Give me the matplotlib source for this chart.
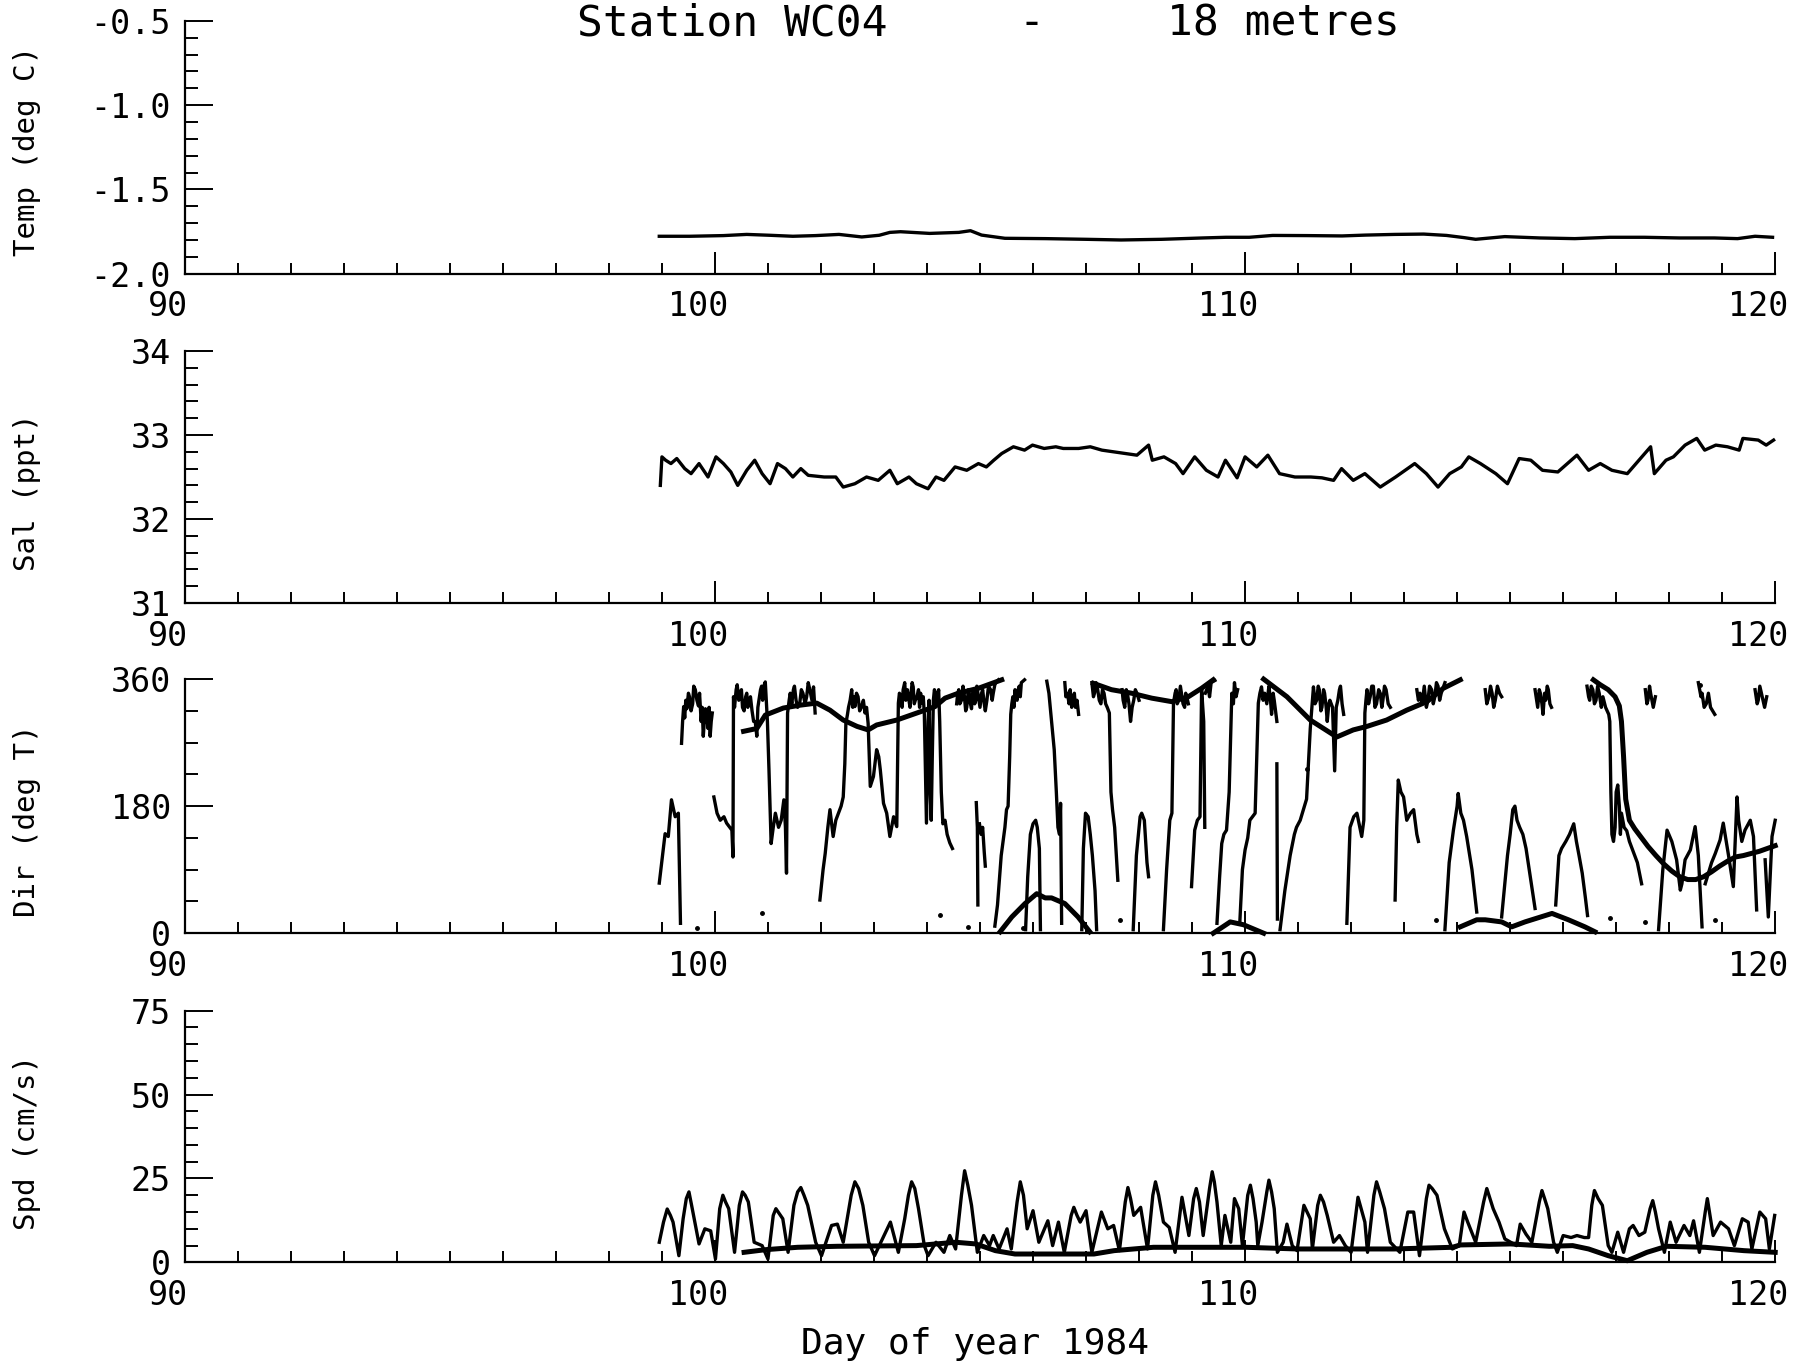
import numpy as np
import matplotlib.pyplot as plt
from matplotlib.ticker import MultipleLocator, FormatStrFormatter
from matplotlib.transforms import ScaledTranslation

plt.rcParams['font.family'] = 'DejaVu Sans Mono'
plt.rcParams['axes.unicode_minus'] = False

# ---- temperature (deg C) ----
temp_day = [98.95, 99.52, 100.16, 100.6, 101.03, 101.47, 101.9, 102.34, 102.77, 103.1,
            103.3, 103.5, 104.05, 104.6, 104.82, 105.03, 105.47, 106.24, 107.0, 107.66,
            108.43, 109.2, 109.64, 110.08, 110.52, 111.17, 111.83, 112.27, 112.82, 113.37,
            113.8, 114.13, 114.35, 114.9, 115.56, 116.22, 116.88, 117.53, 118.19, 118.85,
            119.29, 119.62, 119.95]
temp_val = [-1.778, -1.778, -1.774, -1.767, -1.772, -1.778, -1.774, -1.767, -1.782, -1.772,
            -1.755, -1.751, -1.761, -1.755, -1.745, -1.771, -1.790, -1.792, -1.796, -1.800,
            -1.796, -1.788, -1.784, -1.784, -1.773, -1.774, -1.776, -1.771, -1.767, -1.765,
            -1.773, -1.786, -1.796, -1.780, -1.788, -1.792, -1.784, -1.784, -1.788, -1.788,
            -1.792, -1.778, -1.784]

# ---- salinity (ppt) ----
sal_day = [98.97, 99.0, 99.07, 99.17, 99.28, 99.43, 99.55, 99.7, 99.87, 100.02,
           100.16, 100.3, 100.43, 100.6, 100.75, 100.89, 101.04, 101.18, 101.33, 101.47,
           101.62, 101.76, 102.06, 102.28, 102.42, 102.64, 102.86, 103.08, 103.3, 103.44,
           103.66, 103.8, 104.02, 104.17, 104.32, 104.53, 104.75, 104.97, 105.12, 105.26,
           105.41, 105.63, 105.84, 105.99, 106.21, 106.43, 106.57, 106.86, 107.08, 107.3,
           107.52, 107.74, 107.96, 108.18, 108.25, 108.47, 108.69, 108.83, 109.05, 109.27,
           109.49, 109.63, 109.85, 110.0, 110.22, 110.43, 110.65, 110.94, 111.24, 111.45,
           111.67, 111.82, 112.04, 112.26, 112.55, 112.84, 113.2, 113.42, 113.64, 113.86,
           114.08, 114.22, 114.44, 114.73, 114.95, 115.17, 115.39, 115.61, 115.9, 116.26,
           116.48, 116.7, 116.92, 117.21, 117.43, 117.65, 117.72, 117.94, 118.08, 118.3,
           118.52, 118.67, 118.88, 119.1, 119.32, 119.39, 119.68, 119.83, 119.97]
sal_val = [32.40, 32.74, 32.70, 32.66, 32.72, 32.60, 32.54, 32.66, 32.50, 32.74,
           32.66, 32.56, 32.40, 32.58, 32.70, 32.54, 32.42, 32.66, 32.60, 32.50,
           32.60, 32.52, 32.50, 32.50, 32.38, 32.42, 32.50, 32.46, 32.58, 32.42,
           32.50, 32.42, 32.36, 32.50, 32.46, 32.62, 32.58, 32.66, 32.62, 32.70,
           32.78, 32.86, 32.82, 32.88, 32.84, 32.86, 32.84, 32.84, 32.86, 32.82,
           32.80, 32.78, 32.76, 32.88, 32.70, 32.74, 32.66, 32.54, 32.74, 32.58,
           32.50, 32.70, 32.49, 32.74, 32.62, 32.76, 32.54, 32.50, 32.50, 32.49,
           32.46, 32.60, 32.46, 32.54, 32.38, 32.50, 32.66, 32.54, 32.38, 32.54,
           32.62, 32.74, 32.66, 32.54, 32.42, 32.72, 32.70, 32.58, 32.56, 32.76,
           32.58, 32.66, 32.58, 32.54, 32.70, 32.86, 32.54, 32.70, 32.74, 32.88,
           32.96, 32.82, 32.88, 32.86, 32.82, 32.96, 32.94, 32.88, 32.94]

# ---- current direction (deg T): pen strokes as (day, deg) ----
dir_strokes = [
    [(98.95, 71), (99.06, 141), (99.12, 137), (99.18, 189), (99.25, 165), (99.31, 170), (99.35, 14)],
    [(99.37, 269), (99.39, 300), (99.41, 321), (99.43, 305), (99.45, 330), (99.47, 318), (99.5, 340),
     (99.52, 335), (99.55, 315), (99.58, 325), (99.6, 350), (99.63, 345), (99.66, 330), (99.69, 322),
     (99.71, 340), (99.74, 300), (99.76, 320), (99.78, 279), (99.8, 300), (99.82, 318), (99.85, 305),
     (99.87, 290), (99.89, 320), (99.91, 279), (99.93, 300), (99.95, 312)],
    [(99.98, 193), (100.04, 170), (100.1, 160), (100.17, 165), (100.22, 156), (100.28, 150), (100.32, 146),
     (100.34, 108), (100.35, 335), (100.37, 320), (100.4, 345), (100.42, 352), (100.45, 330), (100.47, 340),
     (100.5, 345), (100.52, 320), (100.55, 315), (100.58, 335), (100.6, 340), (100.62, 320), (100.64, 325),
     (100.67, 335), (100.7, 315), (100.73, 300), (100.76, 300), (100.79, 279), (100.81, 320), (100.83, 330),
     (100.86, 345), (100.88, 350), (100.9, 330), (100.93, 352), (100.95, 356), (100.99, 300),
     (101.02, 230), (101.06, 127), (101.1, 150), (101.14, 170), (101.2, 150), (101.25, 160), (101.3, 189),
     (101.33, 150), (101.35, 85), (101.37, 312), (101.4, 330), (101.42, 340), (101.45, 325), (101.48, 345),
     (101.5, 350), (101.53, 330), (101.56, 320), (101.6, 326), (101.63, 345), (101.66, 340), (101.7, 325),
     (101.73, 335), (101.76, 355), (101.79, 345), (101.83, 330), (101.86, 349), (101.89, 312)],
    [(101.98, 47), (102.04, 90), (102.08, 113), (102.13, 150), (102.17, 175), (102.23, 137), (102.28, 160),
     (102.33, 170), (102.38, 180), (102.42, 193), (102.45, 240), (102.47, 297), (102.5, 310), (102.52, 320),
     (102.55, 330), (102.58, 345), (102.6, 320), (102.62, 335), (102.64, 321), (102.67, 340), (102.7, 335),
     (102.73, 315), (102.76, 320), (102.8, 330), (102.83, 312), (102.86, 320), (102.89, 297), (102.93, 208),
     (102.99, 222), (103.05, 260), (103.09, 250), (103.12, 231), (103.18, 184), (103.24, 170), (103.3, 137),
     (103.37, 165), (103.43, 151), (103.46, 326), (103.48, 340), (103.5, 335), (103.53, 320), (103.55, 345),
     (103.58, 355), (103.6, 330), (103.63, 345), (103.65, 335), (103.68, 320), (103.7, 340), (103.72, 355),
     (103.74, 349), (103.76, 325), (103.78, 330), (103.81, 335), (103.84, 345), (103.86, 320), (103.88, 340),
     (103.9, 326), (103.93, 335), (103.95, 310), (103.99, 156), (104.02, 300), (104.04, 330), (104.06, 200),
     (104.08, 160), (104.1, 250), (104.12, 330), (104.14, 345), (104.16, 340), (104.18, 325), (104.2, 335),
     (104.22, 345), (104.24, 300), (104.27, 200), (104.3, 155), (104.34, 160), (104.38, 140), (104.43, 128),
     (104.48, 120)],
    [(104.56, 325), (104.58, 340), (104.6, 345), (104.62, 325), (104.65, 330), (104.68, 350), (104.7, 340),
     (104.73, 315), (104.75, 320), (104.78, 345), (104.8, 338), (104.82, 325), (104.84, 318), (104.86, 340),
     (104.88, 345), (104.9, 325), (104.92, 330), (104.94, 350), (104.96, 340), (104.98, 330), (105.0, 320),
     (105.03, 340), (105.05, 345), (105.08, 325), (105.1, 315), (105.13, 330), (105.16, 350), (105.2, 345),
     (105.23, 330), (105.25, 340), (105.28, 352), (105.3, 355), (105.35, 359)],
    [(104.93, 185), (104.95, 150), (104.96, 40)],
    [(104.99, 155), (105.02, 140), (105.05, 150), (105.08, 115), (105.1, 95)],
    [(105.28, 10), (105.33, 40), (105.4, 110), (105.47, 150), (105.5, 175), (105.53, 180), (105.56, 250),
     (105.58, 310), (105.6, 325), (105.62, 335), (105.64, 320), (105.66, 345), (105.68, 335), (105.7, 330),
     (105.72, 345), (105.74, 350), (105.76, 335), (105.78, 355), (105.84, 359)],
    [(105.86, 5), (105.9, 80), (105.95, 140), (106.0, 155), (106.05, 160), (106.08, 150), (106.12, 120), (106.14, 5)],
    [(106.26, 357), (106.3, 340), (106.35, 300), (106.4, 260), (106.44, 200), (106.47, 150), (106.5, 140),
     (106.52, 184), (106.54, 14)],
    [(106.6, 355), (106.62, 335), (106.65, 340), (106.68, 325), (106.7, 345), (106.73, 320), (106.75, 330),
     (106.78, 340), (106.8, 320), (106.83, 330), (106.86, 310)],
    [(106.92, 5), (106.95, 120), (106.99, 170), (107.04, 165), (107.08, 140), (107.12, 110), (107.17, 60), (107.2, 5)],
    [(107.11, 355), (107.14, 335), (107.16, 340), (107.19, 355), (107.22, 345), (107.25, 330), (107.28, 325),
     (107.31, 345), (107.34, 340), (107.37, 325), (107.4, 320), (107.44, 312), (107.47, 200), (107.5, 175),
     (107.54, 150), (107.58, 100), (107.6, 75)],
    [(107.68, 345), (107.7, 330), (107.73, 320), (107.76, 345), (107.78, 340), (107.81, 325), (107.84, 300),
     (107.87, 320), (107.9, 330), (107.93, 345), (107.96, 340), (108.0, 330)],
    [(107.89, 5), (107.95, 110), (108.02, 165), (108.05, 170), (108.1, 160), (108.15, 100), (108.18, 80)],
    [(108.46, 5), (108.52, 90), (108.58, 160), (108.62, 170), (108.65, 326), (108.68, 340), (108.7, 345),
     (108.72, 325), (108.75, 330), (108.78, 350), (108.8, 340), (108.83, 325), (108.86, 320), (108.88, 340),
     (108.9, 335), (108.93, 325)],
    [(108.99, 66), (109.05, 146), (109.1, 160), (109.15, 165), (109.18, 345), (109.22, 300), (109.24, 150)],
    [(109.25, 340), (109.3, 350), (109.33, 335), (109.36, 355), (109.43, 358)],
    [(109.47, 14), (109.52, 80), (109.56, 127), (109.6, 140), (109.65, 146), (109.7, 200), (109.75, 340),
     (109.78, 325), (109.8, 355), (109.83, 335), (109.86, 345)],
    [(109.9, 14), (109.95, 90), (110.0, 118), (110.05, 135), (110.09, 160), (110.19, 170), (110.25, 326),
     (110.28, 340), (110.31, 349), (110.34, 330), (110.37, 340), (110.41, 325), (110.45, 350), (110.48, 330),
     (110.5, 310), (110.53, 340), (110.55, 330), (110.6, 300)],
    [(110.6, 240), (110.61, 20)],
    [(110.66, 5), (110.75, 60), (110.85, 110), (110.93, 140), (110.97, 150), (111.04, 160), (111.16, 190),
     (111.23, 290), (111.26, 320), (111.29, 349), (111.32, 325), (111.35, 330), (111.38, 350), (111.4, 345),
     (111.43, 315), (111.45, 320), (111.48, 345), (111.5, 340), (111.53, 320), (111.55, 300), (111.58, 325),
     (111.6, 330), (111.65, 320), (111.69, 230), (111.72, 320), (111.75, 330), (111.78, 345), (111.8, 350),
     (111.83, 325), (111.86, 310)],
    [(111.92, 14), (111.98, 150), (112.05, 165), (112.11, 170), (112.2, 137), (112.24, 160), (112.26, 312),
     (112.28, 330), (112.3, 345), (112.33, 325), (112.36, 335), (112.39, 350), (112.42, 350), (112.45, 320),
     (112.48, 325), (112.52, 345), (112.55, 340), (112.58, 320), (112.6, 330), (112.63, 350), (112.66, 345),
     (112.7, 325), (112.74, 320)],
    [(112.83, 47), (112.86, 150), (112.89, 217), (112.94, 200), (112.99, 193), (113.05, 160), (113.12, 170),
     (113.18, 175), (113.24, 140), (113.27, 130)],
    [(113.24, 345), (113.27, 330), (113.3, 340), (113.34, 325), (113.38, 350), (113.42, 320), (113.45, 330),
     (113.48, 350), (113.52, 345), (113.55, 325), (113.58, 335), (113.61, 355), (113.64, 350), (113.67, 330),
     (113.7, 340), (113.77, 355)],
    [(113.77, 5), (113.85, 100), (113.93, 146), (114.0, 180), (114.02, 198), (114.07, 170), (114.12, 160),
     (114.18, 137), (114.28, 90), (114.37, 30)],
    [(114.53, 345), (114.56, 325), (114.6, 335), (114.63, 350), (114.66, 340), (114.69, 320), (114.72, 330),
     (114.76, 350), (114.8, 340), (114.84, 335)],
    [(114.84, 23), (114.95, 110), (115.0, 140), (115.05, 175), (115.09, 180), (115.13, 160), (115.18, 150),
     (115.24, 140), (115.3, 120), (115.36, 90), (115.41, 66), (115.47, 35)],
    [(115.47, 345), (115.5, 330), (115.52, 320), (115.55, 345), (115.57, 340), (115.6, 325), (115.62, 310),
     (115.65, 340), (115.67, 330), (115.7, 350), (115.72, 345), (115.75, 325), (115.78, 320)],
    [(115.86, 40), (115.92, 110), (115.97, 120), (116.05, 130), (116.12, 140), (116.2, 155), (116.25, 130),
     (116.3, 110), (116.36, 85), (116.42, 50), (116.46, 25)],
    [(116.45, 350), (116.48, 335), (116.5, 330), (116.53, 350), (116.56, 345), (116.59, 325), (116.62, 330),
     (116.65, 350), (116.68, 340), (116.72, 320), (116.75, 335), (116.8, 320), (116.86, 310), (116.88, 300),
     (116.9, 200), (116.92, 140), (116.95, 130), (116.98, 150), (117.0, 200), (117.03, 210), (117.06, 180),
     (117.08, 140), (117.1, 170), (117.15, 150), (117.2, 145), (117.25, 130), (117.3, 120), (117.4, 100),
     (117.48, 70)],
    [(117.55, 345), (117.58, 325), (117.6, 330), (117.63, 350), (117.65, 340), (117.7, 320), (117.74, 335)],
    [(117.8, 5), (117.88, 90), (117.96, 146), (118.05, 130), (118.14, 104), (118.21, 61), (118.24, 70),
     (118.3, 104), (118.4, 118), (118.49, 151), (118.55, 110), (118.62, 9)],
    [(118.68, 70), (118.8, 100), (118.87, 113), (118.96, 132), (119.02, 156), (119.12, 110), (119.21, 66),
     (119.28, 193), (119.31, 160), (119.37, 130), (119.43, 146), (119.53, 160), (119.59, 137), (119.65, 33)],
    [(119.81, 104), (119.87, 23), (119.94, 137), (120.0, 160)],
    [(118.55, 355), (118.6, 335), (118.62, 340), (118.66, 320), (118.7, 325), (118.74, 340), (118.78, 320),
     (118.86, 310)],
    [(119.62, 345), (119.66, 325), (119.68, 330), (119.71, 350), (119.74, 340), (119.8, 320), (119.84, 335)],
]
dir_dot_day = [99.66, 100.88, 104.25, 104.78, 105.82, 107.64, 111.16, 113.6, 116.89, 117.55, 118.87, 118.58]
dir_dot_deg = [7, 28, 26, 9, 7, 19, 232, 19, 21, 16, 19, 352]

# filtered direction (heavy line), one list per pen stroke
dir_smooth = [
    [(100.54, 286), (100.79, 290), (100.95, 309), (101.29, 319), (101.6, 323), (101.92, 326), (102.17, 316),
     (102.42, 302), (102.68, 293), (102.89, 288), (103.05, 295), (103.43, 302), (103.81, 312), (104.15, 321),
     (104.34, 333), (104.59, 340), (104.97, 347), (105.41, 359)],
    [(105.38, 2), (105.6, 23), (105.85, 42), (106.07, 56), (106.23, 50), (106.35, 50), (106.6, 42),
     (106.85, 23), (107.07, 2)],
    [(107.14, 354), (107.48, 345), (107.86, 340), (108.24, 333), (108.62, 328), (108.93, 335), (109.18, 347),
     (109.4, 359)],
    [(109.4, 0), (109.72, 16), (109.97, 12), (110.35, 0)],
    [(110.35, 360), (110.79, 335), (111.23, 302), (111.73, 278), (112.04, 288), (112.3, 293), (112.67, 302),
     (113.05, 316), (113.43, 328), (113.74, 347), (114.06, 359)],
    [(114.06, 9), (114.37, 19), (114.53, 19), (114.84, 16), (115.03, 9), (115.28, 16), (115.79, 28),
     (116.1, 19), (116.41, 9), (116.6, 2)],
    [(116.57, 359), (116.7, 352), (116.85, 345), (116.98, 335), (117.06, 322), (117.1, 300), (117.14, 250),
     (117.18, 190), (117.25, 160), (117.35, 148), (117.45, 138), (117.6, 123), (117.75, 110), (117.9, 98),
     (118.05, 88), (118.2, 80), (118.35, 76), (118.5, 76), (118.65, 80), (118.8, 87), (118.95, 95),
     (119.1, 102), (119.25, 108), (119.4, 110), (119.55, 113), (119.7, 116), (119.85, 120), (120.0, 124)],
]

# ---- current speed (cm/s) ----
spd_day = [98.95, 99.03, 99.1, 99.16, 99.21, 99.32, 99.4, 99.46, 99.51, 99.56, 99.62, 99.7, 99.81, 99.92,
           100.01, 100.09, 100.15, 100.2, 100.26, 100.37, 100.46, 100.52, 100.57, 100.63, 100.74, 100.89,
           101.0, 101.1, 101.15, 101.28, 101.38, 101.49, 101.56, 101.62, 101.68, 101.75, 101.9, 102.01,
           102.2, 102.31, 102.42, 102.57, 102.64, 102.71, 102.79, 102.9, 103.01, 103.13, 103.31, 103.46,
           103.58, 103.65, 103.71, 103.77, 103.84, 103.95, 104.02, 104.17, 104.32, 104.43, 104.54, 104.65,
           104.71, 104.77, 104.84, 104.95, 105.07, 105.18, 105.25, 105.36, 105.51, 105.59, 105.7, 105.76,
           105.82, 105.89, 106.0, 106.11, 106.19, 106.28, 106.37, 106.48, 106.59, 106.72, 106.77, 106.83,
           106.89, 107.0, 107.11, 107.29, 107.41, 107.52, 107.63, 107.74, 107.79, 107.84, 107.9, 108.03,
           108.16, 108.26, 108.31, 108.37, 108.46, 108.57, 108.68, 108.81, 108.94, 109.03, 109.08, 109.14,
           109.21, 109.33, 109.38, 109.42, 109.47, 109.55, 109.62, 109.73, 109.8, 109.88, 109.95, 110.05,
           110.1, 110.15, 110.21, 110.24, 110.32, 110.41, 110.45, 110.5, 110.55, 110.61, 110.72, 110.79,
           110.89, 110.98, 111.11, 111.23, 111.27, 111.37, 111.42, 111.48, 111.55, 111.67, 111.78, 111.89,
           112.0, 112.13, 112.26, 112.31, 112.43, 112.48, 112.54, 112.63, 112.74, 112.92, 113.07, 113.18,
           113.29, 113.42, 113.47, 113.53, 113.62, 113.76, 113.91, 114.04, 114.13, 114.2, 114.35, 114.5,
           114.56, 114.62, 114.68, 114.79, 114.9, 115.01, 115.12, 115.19, 115.3, 115.41, 115.55, 115.6,
           115.65, 115.71, 115.82, 115.89, 116.0, 116.15, 116.26, 116.4, 116.48, 116.54, 116.59, 116.66,
           116.74, 116.85, 116.92, 117.03, 117.14, 117.25, 117.32, 117.43, 117.54, 117.64, 117.69, 117.74,
           117.8, 117.91, 118.02, 118.13, 118.28, 118.39, 118.46, 118.57, 118.68, 118.72, 118.77, 118.83,
           118.97, 119.12, 119.23, 119.38, 119.49, 119.56, 119.71, 119.82, 119.89, 119.99]
spd_val = [6, 12, 15.9, 14, 12, 2, 13, 19, 21, 17, 12, 5.5, 10, 9.4,
           1, 16, 20, 18, 16, 3, 17, 21, 20, 18, 6, 5,
           1, 14, 16, 13, 3, 17, 21, 22.3, 20, 17, 6, 2,
           11, 11.4, 6, 20, 24, 22, 17, 6, 2, 6, 12, 3,
           13, 20, 24, 22, 16, 5, 2, 6, 3, 8, 4, 20,
           27.3, 23, 17, 3, 8, 5, 8, 4, 10, 4, 18, 24,
           20, 10, 15.4, 6, 9, 12.4, 5, 12, 3, 14, 16.4, 14,
           12, 15.4, 3, 15, 10, 11, 3.5, 18, 22.3, 19, 14, 16.4,
           4, 20, 24, 20, 12, 10.4, 3, 19.4, 8, 19, 22, 18,
           8, 22, 27, 24, 18, 5, 14, 6, 19, 16, 5, 20,
           23, 19, 12, 5, 12, 21, 24.5, 21, 16, 3, 6, 11.4,
           5, 3.5, 17, 13, 4, 17, 20, 18, 14, 6, 8, 5,
           3, 19.4, 12, 3, 20, 24, 21, 16, 6, 3, 15, 15,
           2, 19, 23, 22, 20, 10, 4, 5, 15, 12, 6, 18,
           22, 19, 16, 12, 7, 6, 5, 11.4, 8.4, 6, 18, 21.4,
           19, 16, 6, 3, 8, 7.4, 8, 7.4, 7.4, 17, 21.4, 19,
           17, 5, 3, 9, 3, 10, 11, 8, 9, 16, 18.4, 15,
           10, 3, 12, 6, 11, 8, 12.4, 3, 15, 19, 14, 8,
           12, 10, 5, 13, 12, 4, 15, 13, 4, 14]
spd_smooth_day = [100.55, 100.96, 101.56, 102.31, 103.8, 104.17, 104.54, 104.92, 105.29, 105.66,
                  106.41, 107.15, 107.53, 108.27, 109.02, 110.02, 110.98, 112.81, 113.91, 114.06,
                  115.01, 115.74, 116.18, 116.48, 116.85, 117.21, 117.58, 117.95, 118.68, 119.41, 120.0]
spd_smooth_val = [3.0, 3.8, 4.5, 4.8, 5.0, 5.5, 6.0, 5.5, 3.5, 2.5,
                  2.5, 2.5, 3.5, 4.5, 4.5, 4.5, 4.0, 4.0, 4.5, 5.2,
                  5.5, 4.8, 5.0, 4.0, 2.0, 0.5, 3.0, 4.8, 4.5, 3.5, 3.0]


def join_strokes(strokes):
    xs, ys = [], []
    for s in strokes:
        xs += [p[0] for p in s] + [np.nan]
        ys += [p[1] for p in s] + [np.nan]
    return xs, ys


W, H = 1811, 1369
fig = plt.figure(figsize=(W / 100, H / 100), dpi=100)


def panel(top, bottom):
    return fig.add_axes([184.8 / W, 1 - bottom / H, (1775.2 - 184.8) / W, (bottom - top) / H])


def style(ax, ylim, major, minor, fmt):
    ax.set_xlim(90, 120)
    ax.set_ylim(*ylim)
    ax.spines['top'].set_visible(False)
    ax.spines['right'].set_visible(False)
    ax.spines['left'].set_linewidth(1.6)
    ax.spines['bottom'].set_linewidth(1.6)
    ax.xaxis.set_major_locator(MultipleLocator(10))
    ax.xaxis.set_minor_locator(MultipleLocator(1))
    ax.yaxis.set_major_locator(MultipleLocator(major))
    ax.yaxis.set_minor_locator(MultipleLocator(minor))
    ax.yaxis.set_major_formatter(FormatStrFormatter(fmt))
    ax.tick_params(axis='x', which='major', direction='in', length=16, width=1.4, pad=12, labelsize=24)
    ax.tick_params(axis='x', which='minor', direction='in', length=8, width=1.4)
    ax.tick_params(axis='y', which='major', direction='in', length=20, width=1.4, pad=10, labelsize=24)
    ax.tick_params(axis='y', which='minor', direction='in', length=9, width=1.4)
    shift = ScaledTranslation(-0.17, 0, fig.dpi_scale_trans)
    for t in ax.xaxis.get_major_ticks():
        t.label1.set_transform(t.label1.get_transform() + shift)


ax1 = panel(20.8, 273.7)
ax2 = panel(351.1, 602.9)
ax3 = panel(679.1, 933.2)
ax4 = panel(1010.6, 1262.4)

style(ax1, (-2.0, -0.5), 0.5, 0.1, '%.1f')
style(ax2, (31, 34), 1, 0.2, '%d')
style(ax3, (0, 360), 180, 45, '%d')
style(ax4, (0, 75), 25, 5, '%d')

raw = dict(color='black', lw=2.4, clip_on=False)
ax1.plot(temp_day, temp_val, **raw)
ax2.plot(sal_day, sal_val, **raw)

dx, dy = join_strokes(dir_strokes)
ax3.plot(dx, dy, **raw)
ax3.plot(dir_dot_day, dir_dot_deg, 'o', color='black', ms=2.5, clip_on=False)
sx, sy = join_strokes(dir_smooth)
ax3.plot(sx, sy, color='black', lw=3.6, clip_on=False)

ax4.plot(spd_day, spd_val, **raw)
ax4.plot(spd_smooth_day, spd_smooth_val, color='black', lw=3.6, clip_on=False)

# y axis labels
ylabels = [('Temp (deg C)', 151), ('Sal (ppt)', 492), ('Dir (deg T)', 821), ('Spd (cm/s)', 1142)]
for text, yc in ylabels:
    fig.text(27 / W, 1 - yc / H, text, rotation=90, ha='center', va='center', fontsize=21)

# title pieces and x label
fig.text(732 / W, 1 - 35 / H, 'Station WC04', ha='center', va='baseline', fontsize=31)
fig.text(1031 / W, 1 - 35 / H, '-', ha='center', va='baseline', fontsize=31)
fig.text(1283 / W, 1 - 35 / H, '18 metres', ha='center', va='baseline', fontsize=31)
fig.text(975 / W, 1 - 1354 / H, 'Day of year 1984', ha='center', va='baseline', fontsize=26)

fig.savefig('out.png', dpi=100, facecolor='white')
